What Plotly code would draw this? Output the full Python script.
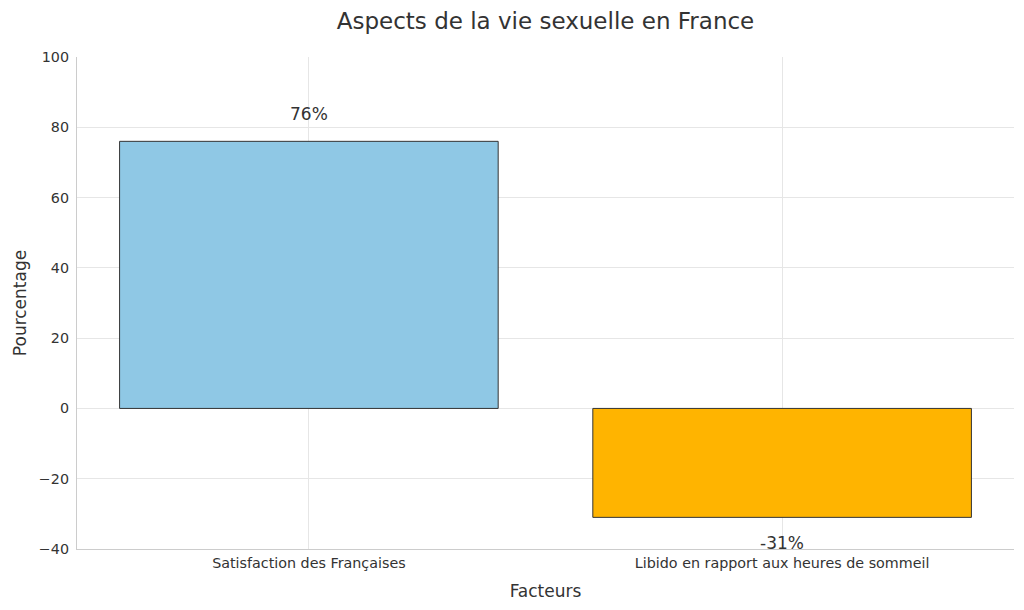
import plotly.graph_objects as go

categories = ["Satisfaction des Françaises", "Libido en rapport aux heures de sommeil"]
values = [76, -31]
labels = ["76%", "-31%"]
colors = ["#8fc8e5", "#ffb400"]
y_ticks = [-40, -20, 0, 20, 40, 60, 80, 100]
y_tick_text = ["\u221240", "\u221220", "0", "20", "40", "60", "80", "100"]

font = "DejaVu Sans, sans-serif"

fig = go.Figure()
fig.add_trace(go.Bar(
    x=[0, 1], y=values, width=0.8,
    marker=dict(color=colors, line=dict(color="#333333", width=1)),
    showlegend=False, hoverinfo="skip",
))

for i, (v, t) in enumerate(zip(values, labels)):
    fig.add_annotation(x=i, y=v, text=t, showarrow=False,
                       yanchor="middle", yshift=27 if v >= 0 else -26,
                       font=dict(family=font, size=17, color="#333333"))

fig.update_layout(
    width=1024, height=610,
    margin=dict(l=77, r=10, t=57, b=61),
    paper_bgcolor="white", plot_bgcolor="white",
    title=dict(text="Aspects de la vie sexuelle en France", x=0.5, xref="paper", xanchor="center",
               y=0.966, yanchor="middle",
               font=dict(family=font, size=23, color="#333333")),
    font=dict(family=font, color="#333333"),
    bargap=0.2,
)
fig.update_xaxes(
    range=[-0.49, 1.49], tickvals=[0, 1], ticktext=categories,
    showgrid=True, gridcolor="#e6e6e6", gridwidth=1,
    showline=True, linecolor="#cccccc", linewidth=1.2,
    ticks="", ticklabelstandoff=1,
    tickfont=dict(family=font, size=14.3, color="#333333"),
    title=dict(text="Facteurs", font=dict(family=font, size=17, color="#333333"), standoff=14),
    zeroline=False,
)
fig.update_yaxes(
    range=[-40, 100], tickvals=y_ticks, ticktext=y_tick_text,
    showgrid=True, gridcolor="#e6e6e6", gridwidth=1,
    showline=True, linecolor="#cccccc", linewidth=1.2,
    ticks="", ticklabelstandoff=4,
    tickfont=dict(family=font, size=14.3, color="#333333"),
    title=dict(text="Pourcentage", font=dict(family=font, size=17, color="#333333"), standoff=7),
    zeroline=False,
)

fig.write_html("out.html")
